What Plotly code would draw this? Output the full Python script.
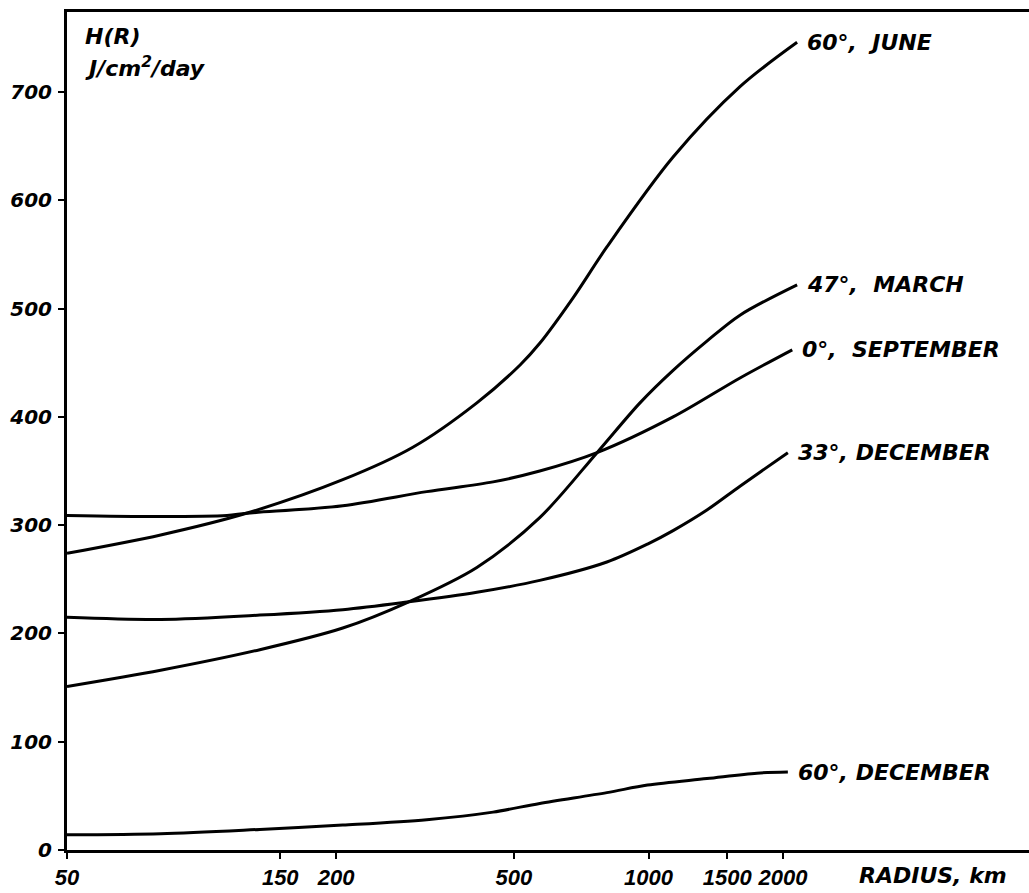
import math
import plotly.graph_objects as go

# Daily irradiation H(R) versus radius for several latitude / month cases
radius_60_june = [50, 81, 126, 207, 297, 413, 516, 571, 678, 807, 1135, 1602, 2150]
h_60_june = [274, 291, 311, 342, 372, 413, 448, 468, 510, 557, 640, 705, 746]

radius_47_march = [50, 81, 135, 207, 290, 413, 571, 767, 957, 1135, 1351, 1602, 2150]
h_47_march = [151, 166, 185, 205, 229, 261, 307, 367, 413, 443, 470, 494, 522]

radius_0_september = [50, 81, 114, 126, 207, 319, 449, 571, 767, 1135, 1602, 2097]
h_0_september = [309, 308, 309, 311, 318, 331, 340, 350, 367, 400, 436, 462]

radius_33_december = [50, 81, 135, 207, 288, 413, 571, 807, 1000, 1135, 1351, 1602, 2050]
h_33_december = [215, 213, 217, 222, 229, 238, 249, 266, 283, 295, 314, 336, 367]

radius_60_december = [50, 81, 135, 207, 319, 449, 571, 807, 995, 1351, 1748, 2050]
h_60_december = [14, 15, 19, 23, 28, 35, 43, 53, 60, 66, 71, 72]

series_labels = ["60°,  JUNE", "47°,  MARCH", "0°,  SEPTEMBER", "33°, DECEMBER", "60°, DECEMBER"]

x_tick_values = [50, 150, 200, 500, 1000, 1500, 2000]
x_tick_labels = ["50", "150", "200", "500", "1000", "1500", "2000"]
y_tick_values = [0, 100, 200, 300, 400, 500, 600, 700]
y_tick_labels = ["0", "100", "200", "300", "400", "500", "600", "700"]

series = [
    (radius_60_june, h_60_june),
    (radius_47_march, h_47_march),
    (radius_0_september, h_0_september),
    (radius_33_december, h_33_december),
    (radius_60_december, h_60_december),
]

FONT = "DejaVu Sans"
font_main = dict(family=FONT, size=22, color="black", weight="bold", style="italic")
font_ytick = dict(family=FONT, size=20, color="black", weight="bold", style="italic")
font_xtick = dict(family="Liberation Sans", size=22, color="black", weight="bold", style="italic")

fig = go.Figure()
for (r, h), label in zip(series, series_labels):
    fig.add_trace(go.Scatter(
        x=r, y=h, mode="lines",
        line=dict(color="black", width=3, shape="spline", smoothing=0.9),
        name=label.replace("  ", " "), hoverinfo="x+y+name",
    ))
    # curve label just right of the last point
    fig.add_annotation(
        x=math.log10(r[-1]), y=h[-1], xref="x", yref="y",
        text=label.replace("  ", "\u00a0 "), showarrow=False,
        xanchor="left", yanchor="middle", xshift=8,
        font=font_main,
    )

# axis captions
fig.add_annotation(x=0.0166, y=0.971, xref="paper", yref="paper", text="H(R)",
                   showarrow=False, xanchor="left", yanchor="middle", font=font_main)
fig.add_annotation(x=0.0166, y=0.934, xref="paper", yref="paper",
                   text="J/cm<sup>2</sup>/day",
                   showarrow=False, xanchor="left", yanchor="middle", font=font_main)
fig.add_annotation(x=0.821, y=-0.030, xref="paper", yref="paper", text="RADIUS, km",
                   showarrow=False, xanchor="left", yanchor="middle", font=font_main)

fig.update_layout(
    width=1029, height=893,
    margin=dict(l=67, r=0, t=12, b=43),
    plot_bgcolor="white", paper_bgcolor="white",
    showlegend=False,
)
fig.update_xaxes(
    type="log", range=[math.log10(50), math.log10(7100)],
    tickvals=x_tick_values, ticktext=x_tick_labels, tickangle=0,
    showline=True, linecolor="black", linewidth=3, mirror=True,
    ticks="outside", ticklen=6, tickwidth=2, tickcolor="black",
    showgrid=False, zeroline=False,
    tickfont=font_xtick,
)
fig.update_yaxes(
    range=[0, 774],
    tickvals=y_tick_values, ticktext=y_tick_labels,
    showline=True, linecolor="black", linewidth=3, mirror=False,
    ticks="outside", ticklen=6, tickwidth=2, tickcolor="black",
    showgrid=False, zeroline=False,
    tickfont=font_ytick, ticklabelstandoff=2,
)

fig.write_html("out.html")
